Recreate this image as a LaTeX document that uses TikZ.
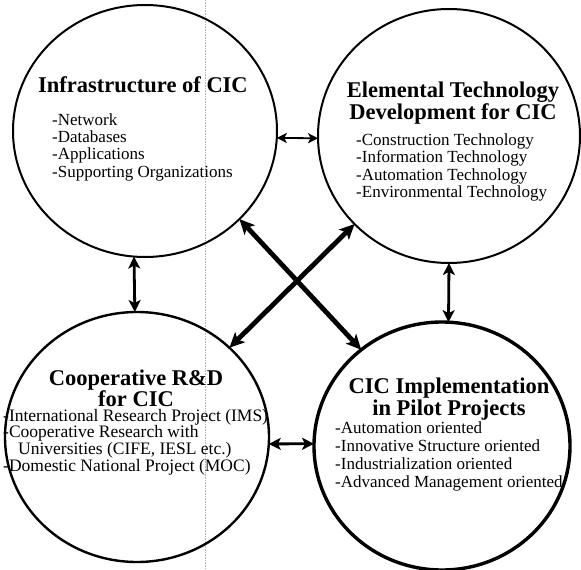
\documentclass[tikz,border=0pt]{standalone}
\usepackage{fontspec}
\setmainfont{Liberation Serif}
\usetikzlibrary{arrows.meta,positioning,shapes.geometric,calc}
\tikzset{
blob/.style={draw,ellipse,inner sep=0pt,outer sep=0pt},
ttl/.style={font=\fontsize{22.5}{#1}\selectfont\bfseries,align=center,anchor=base,inner sep=0pt},
ttl/.default=22,
itm/.style={font=\fontsize{17}{#1}\selectfont,align=left,anchor=base west,inner sep=0pt},
itm/.default=17.5,
thinarr/.style={<->,>={Stealth[length=10pt,width=10pt,inset=2.5pt]},line width=1.8pt},
midarr/.style={<->,>={Stealth[length=12pt,width=12pt,inset=3pt]},line width=2.8pt},
bigarr/.style={<->,>={Stealth[length=15pt,width=14pt,inset=3.5pt]},line width=4.8pt}
}
\begin{document}
\begin{tikzpicture}[x=1pt,y=-1pt,line join=round]
\useasboundingbox (0,0) rectangle (581,570);
\draw[gray!55,densely dotted,line width=0.6pt] (205,0)--(205,570);
\node[blob,minimum width=264pt,minimum height=252pt,line width=2pt] (infra) at (145,131) {};
\node[blob,minimum width=262pt,minimum height=254pt,line width=2pt] (elem) at (449,136) {};
\node[blob,minimum width=264pt,minimum height=250pt,line width=2.4pt] (coop) at (137,437) {};
\node[blob,minimum width=256pt,minimum height=248pt,line width=3.4pt] (impl) at (442,446) {};
\node[ttl] (infrat) at (143,92) {Infrastructure of CIC};
\node[itm=17.3] (infral) at (52,177) {-Network\\-Databases\\-Applications\\-Supporting Organizations};
\node[ttl] (elemt) at (453,119) {Elemental Technology\\Development for CIC};
\node[itm=17.5] (eleml) at (356,197.5) {-Construction Technology\\-Information Technology\\-Automation Technology\\-Environmental Technology};
\node[ttl=21.5] (coopt) at (136,406.5) {Cooperative R\&D\\for CIC};
\node[itm,font=\fontsize{17.5}{16.8}\selectfont] (coopl) at (3,471.5) {-International Research Project (IMS)\\-Cooperative Research with\\\hspace{15pt}Universities (CIFE, IESL etc.)\\-Domestic National Project (MOC)};
\node[ttl] (implt) at (449,415) {CIC Implementation\\in Pilot Projects};
\node[itm=18] (impll) at (335,487) {-Automation oriented\\-Innovative Structure oriented\\-Industrialization oriented\\-Advanced Management oriented};
\draw[thinarr] (infra.-3)--(elem.181);
\draw[midarr] (coop.-3)--(impl.179);
\draw[midarr] (infra.-95)--(coop.91);
\draw[midarr] (elem.-90.5)--(impl.87);
\draw[bigarr] (infra.-43)--(impl.130);
\draw[bigarr] (elem.223)--(coop.44);
\end{tikzpicture}
\end{document}
